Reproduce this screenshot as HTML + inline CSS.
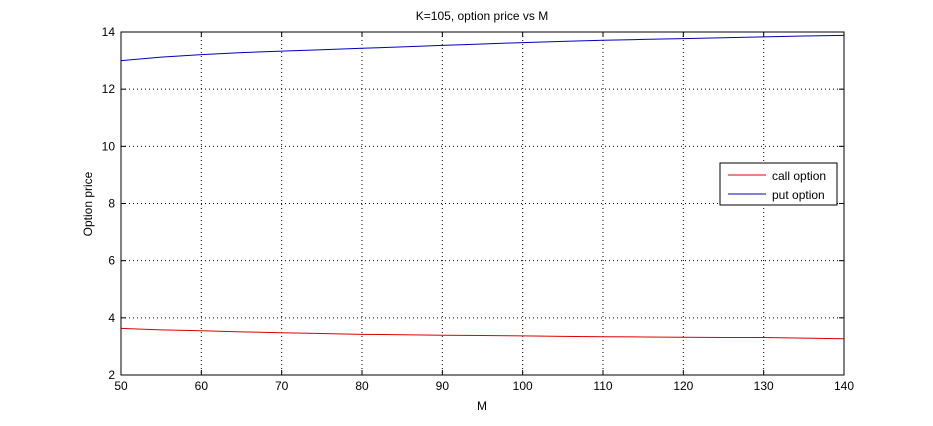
<!DOCTYPE html>
<html><head><meta charset="utf-8"><style>
body{margin:0;background:#fff;width:933px;height:421px;overflow:hidden}
text{font-family:"Liberation Sans",sans-serif;font-size:12px;fill:#000}
</style></head><body>
<svg id="chart" width="933" height="421" xmlns="http://www.w3.org/2000/svg">
<rect x="0" y="0" width="933" height="421" fill="#fff"/>
<g id="grid"></g>
<g id="series"></g>
<rect x="121" y="32" width="723" height="343" fill="none" stroke="#000" stroke-width="1"/>
<g id="ticks"></g>
<text x="482" y="20" text-anchor="middle">K=105, option price vs M</text>
<text x="482" y="410" text-anchor="middle">M</text>
<text transform="translate(92,204) rotate(-90)" text-anchor="middle">Option price</text>
<g>
<rect x="720" y="163" width="117" height="42" fill="#fff" stroke="#000"/>
<line x1="728" y1="175" x2="766" y2="175" stroke="#e00000"/>
<text x="772" y="180">call option</text>
<line x1="728" y1="194" x2="766" y2="194" stroke="#0000c0"/>
<text x="772" y="199">put option</text>
</g>
</svg>
<script>
const mValues=[50,55,60,65,70,75,80,85,90,95,100,105,110,115,120,125,130,135,140];
const callPrices=[3.63,3.58,3.55,3.51,3.48,3.45,3.42,3.41,3.39,3.38,3.37,3.35,3.34,3.33,3.32,3.31,3.31,3.29,3.27];
const putPrices=[13.0,13.12,13.21,13.28,13.33,13.38,13.43,13.48,13.53,13.58,13.63,13.67,13.71,13.74,13.77,13.8,13.83,13.86,13.88];
const xTicks=[50,60,70,80,90,100,110,120,130,140];
const yTicks=[2,4,6,8,10,12,14];
const L=121,R=844,T=32,B=375;
const xs=v=>L+(v-50)/(140-50)*(R-L);
const ys=v=>B-(v-2)/(14-2)*(B-T);
const NS="http://www.w3.org/2000/svg";
const grid=document.getElementById('grid'),ticks=document.getElementById('ticks'),series=document.getElementById('series');
function mk(tag,attrs,parent){const e=document.createElementNS(NS,tag);for(const k in attrs)e.setAttribute(k,attrs[k]);parent.appendChild(e);return e;}
xTicks.forEach(v=>{const x=xs(v);
 const g=mk('line',{x1:x,y1:T,x2:x,y2:B,stroke:'#000','stroke-dasharray':'1,3'},grid);
 
 
 mk('line',{x1:x,y1:B,x2:x,y2:B-5,stroke:'#000'},ticks);
 mk('line',{x1:x,y1:T,x2:x,y2:T+5,stroke:'#000'},ticks);
 const t=mk('text',{x:x,y:B+15,'text-anchor':'middle'},ticks);t.textContent=v;
 
 
});
yTicks.forEach(v=>{const y=ys(v);
 const g=mk('line',{x1:L,y1:y,x2:R,y2:y,stroke:'#000','stroke-dasharray':'1,3'},grid);
 
 
 mk('line',{x1:L,y1:y,x2:L+5,y2:y,stroke:'#000'},ticks);
 mk('line',{x1:R,y1:y,x2:R-5,y2:y,stroke:'#000'},ticks);
 const t=mk('text',{x:L-6,y:y+4,'text-anchor':'end'},ticks);t.textContent=v;
 
 
});
const pc=mk('polyline',{points:mValues.map((m,i)=>xs(m)+','+ys(callPrices[i])).join(' '),fill:'none',stroke:'#e00000','stroke-width':1},series);


const pp=mk('polyline',{points:mValues.map((m,i)=>xs(m)+','+ys(putPrices[i])).join(' '),fill:'none',stroke:'#0000c0','stroke-width':1},series);


</script>
</body></html>
